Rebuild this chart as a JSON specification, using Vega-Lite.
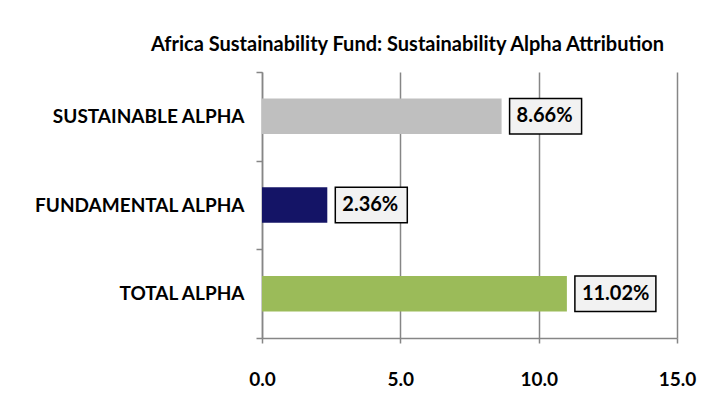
{
  "$schema": "https://vega.github.io/schema/vega-lite/v6.json",
  "width": 415,
  "height": 266,
  "autosize": "none",
  "padding": {"left": 262, "top": 72, "right": 44, "bottom": 74},
  "background": "white",
  "title": {
    "text": "Africa Sustainability Fund: Sustainability Alpha Attribution",
    "font": "Lato",
    "fontSize": 20,
    "fontWeight": "bold",
    "color": "black",
    "anchor": "middle",
    "dx": -62,
    "offset": 8
  },
  "config": {"view": {"stroke": null}},
  "data": {
    "values": [
      {"category": "SUSTAINABLE ALPHA", "value": 8.66},
      {"category": "FUNDAMENTAL ALPHA", "value": 2.36},
      {"category": "TOTAL ALPHA", "value": 11.02}
    ]
  },
  "transform": [{"calculate": "format(datum.value, '.2f') + '%'", "as": "label"}],
  "encoding": {
    "y": {
      "field": "category",
      "type": "nominal",
      "sort": ["SUSTAINABLE ALPHA", "FUNDAMENTAL ALPHA", "TOTAL ALPHA"],
      "scale": {"paddingInner": 0, "paddingOuter": 0},
      "axis": {
        "title": null,
        "tickBand": "extent",
        "ticks": true,
        "tickSize": 6,
        "tickColor": "#868686",
        "tickWidth": 1.5,
        "domain": true,
        "domainColor": "#868686",
        "domainWidth": 1.5,
        "labelPadding": 12,
        "labelFont": "Lato",
        "labelFontWeight": "bold",
        "labelFontSize": 19,
        "labelColor": "black",
        "labelLimit": 300,
        "grid": false
      }
    }
  },
  "layer": [
    {
      "mark": {"type": "bar", "height": {"band": 0.4}},
      "encoding": {
        "x": {
          "field": "value",
          "type": "quantitative",
          "scale": {"domain": [0, 15], "nice": false},
          "axis": {
            "title": null,
            "values": [0, 5, 10, 15],
            "format": ".1f",
            "grid": true,
            "gridColor": "#868686",
            "gridWidth": 1.5,
            "domain": true,
            "domainColor": "#868686",
            "domainWidth": 1.5,
            "ticks": true,
            "tickSize": 5,
            "tickColor": "#868686",
            "tickWidth": 1.5,
            "labelFlush": false,
            "labelFont": "Lato",
            "labelFontWeight": "bold",
            "labelFontSize": 19,
            "labelColor": "black",
            "labelPadding": 27
          }
        },
        "color": {
          "field": "category",
          "type": "nominal",
          "scale": {
            "domain": ["SUSTAINABLE ALPHA", "FUNDAMENTAL ALPHA", "TOTAL ALPHA"],
            "range": ["#bfbfbf", "#141466", "#9bbb59"]
          },
          "legend": null
        }
      }
    },
    {
      "transform": [{"filter": "datum.value < 10"}],
      "mark": {"type": "bar", "height": {"band": 0.4}, "xOffset": 8, "x2Offset": 80, "fill": "#f2f2f2", "stroke": "black", "strokeWidth": 1.5},
      "encoding": {
        "x": {"field": "value", "type": "quantitative"},
        "x2": {"field": "value"}
      }
    },
    {
      "transform": [{"filter": "datum.value >= 10"}],
      "mark": {"type": "bar", "height": {"band": 0.4}, "xOffset": 8, "x2Offset": 89, "fill": "#f2f2f2", "stroke": "black", "strokeWidth": 1.5},
      "encoding": {
        "x": {"field": "value", "type": "quantitative"},
        "x2": {"field": "value"}
      }
    },
    {
      "mark": {"type": "text", "align": "left", "baseline": "middle", "dx": 15, "font": "Lato", "fontWeight": "bold", "fontSize": 20, "color": "black"},
      "encoding": {
        "x": {"field": "value", "type": "quantitative"},
        "text": {"field": "label"}
      }
    }
  ]
}
